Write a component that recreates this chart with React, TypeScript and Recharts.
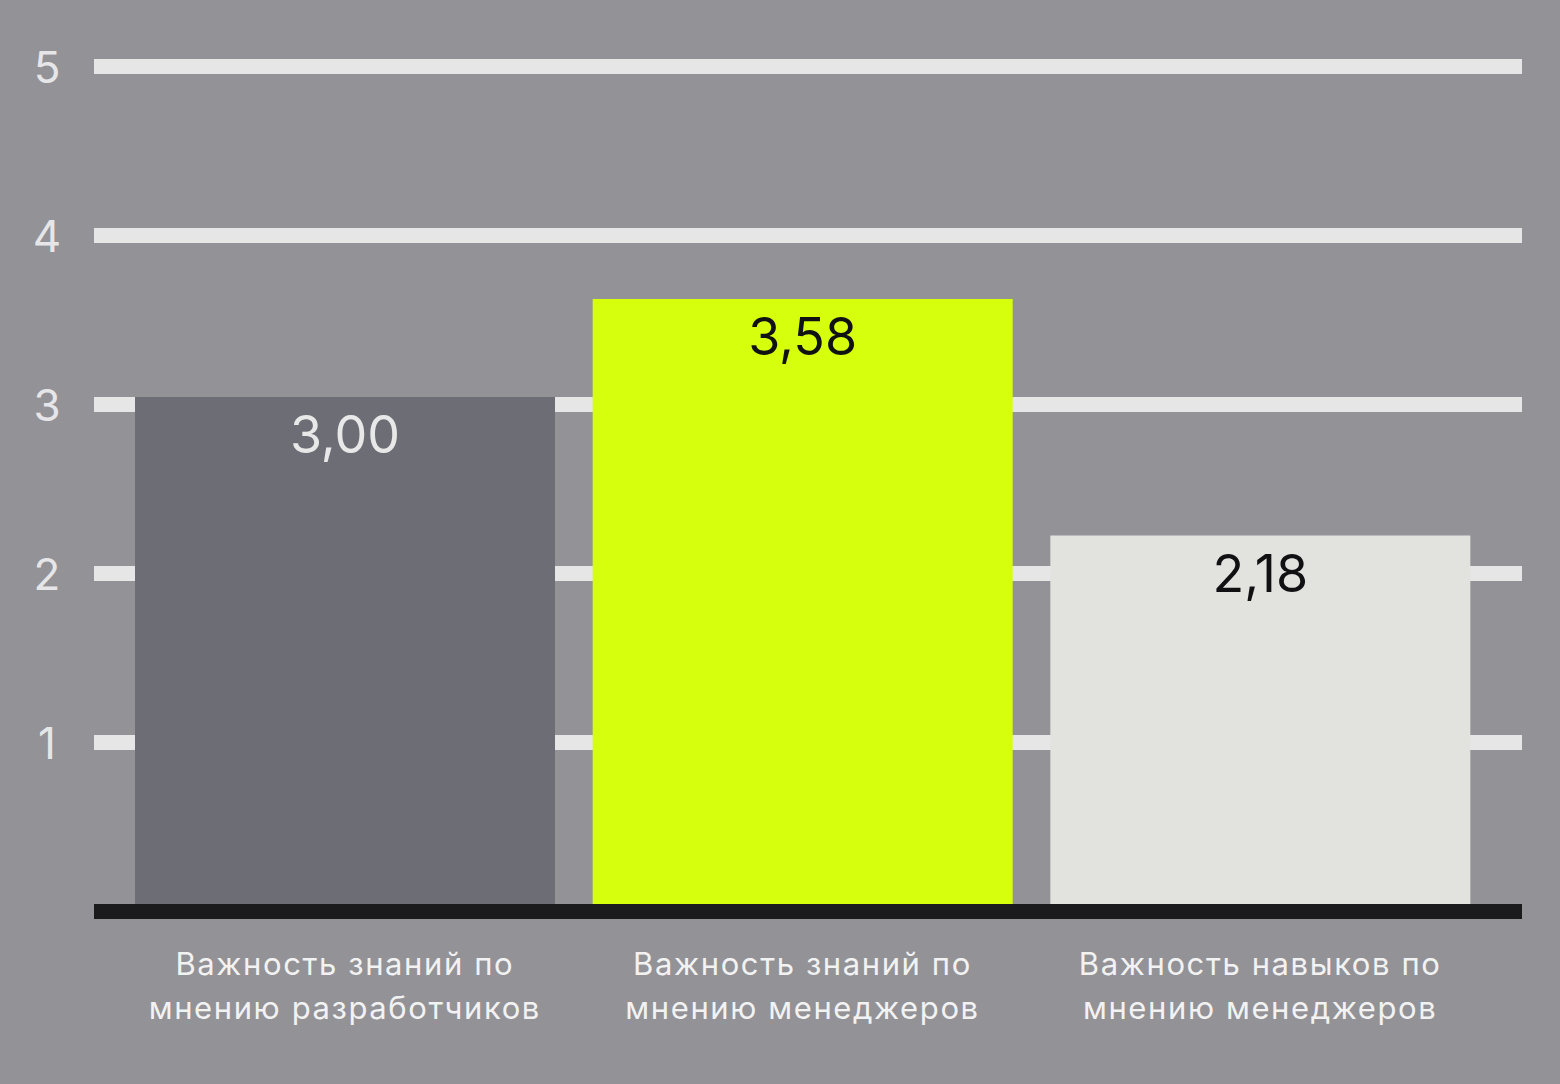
import { BarChart, Bar, XAxis, YAxis, CartesianGrid, Cell, LabelList } from "recharts";

const categories = [
  ["Важность знаний по", "мнению разработчиков"],
  ["Важность знаний по", "мнению менеджеров"],
  ["Важность навыков по", "мнению менеджеров"],
];
const scores = [3.0, 3.58, 2.18];
const barColors = ["#6d6d75", "#d5ff0d", "#e2e2df"];
const labelColors = ["#e8e8e8", "#111114", "#111114"];
const yTicks = [0, 1, 2, 3, 4, 5];

const data = categories.map((lines, i) => ({ name: lines.join(" "), value: scores[i] }));

const W = 1560;
const H = 1084;
const FONT = "Inter, 'Noto Sans', sans-serif";
const LINE = 15;

const YTick = (props: any) => {
  const { y, payload } = props;
  if (payload.value === 0) return null;
  return (
    <text x={47} y={y + LINE / 2} textAnchor="middle" dominantBaseline="central"
      fontFamily={FONT} fontSize={44} fill="#e6e6e8">
      {payload.value}
    </text>
  );
};

const XTick = (props: any) => {
  const { x, y, index } = props;
  const lines = categories[index] || [];
  return (
    <text x={x} y={y} textAnchor="middle" fontFamily={FONT} fontSize={31} letterSpacing={1.6} fill="#f2f2f2">
      {lines.map((l, i) => (
        <tspan key={i} x={x} y={y + 71 + i * 44}>{l}</tspan>
      ))}
    </text>
  );
};

const GridLine = (props: any) => {
  const { x1, x2, y1, index } = props;
  const isBase = Math.abs(y1 - (H - 180)) < 2;
  return (
    <rect key={`g-${index}`} x={x1} y={y1} width={x2 - x1} height={LINE}
      fill={isBase ? "#1b1b1e" : "#e6e6e6"} />
  );
};

const ValueLabel = (props: any) => {
  const { x, y, width, value, index } = props;
  return (
    <text x={x + width / 2} y={y + 56} textAnchor="middle" fontFamily={FONT} fontSize={52}
      fill={labelColors[index]}>
      {Number(value).toFixed(2).replace(".", ",")}
    </text>
  );
};

export default function App() {
  return (
    <div style={{ position: "absolute", left: 0, top: 0, width: W, height: H, background: "#939297" }}>
      <BarChart width={W} height={H} data={data} margin={{ top: 59, right: 38, bottom: 0, left: 0 }}>
        <CartesianGrid vertical={false} horizontal={GridLine} />
        <YAxis domain={[0, 5]} ticks={yTicks} width={94} axisLine={false} tickLine={false} tick={YTick} />
        <XAxis dataKey="name" height={180} axisLine={false} tickLine={false} tickSize={0} tickMargin={0}
          padding={{ left: 22, right: 33 }} tick={XTick} interval={0} />
        <Bar dataKey="value" barSize={420} isAnimationActive={false}>
          {data.map((_, i) => (
            <Cell key={i} fill={barColors[i]} />
          ))}
          <LabelList dataKey="value" content={ValueLabel} />
        </Bar>
      </BarChart>
    </div>
  );
}
